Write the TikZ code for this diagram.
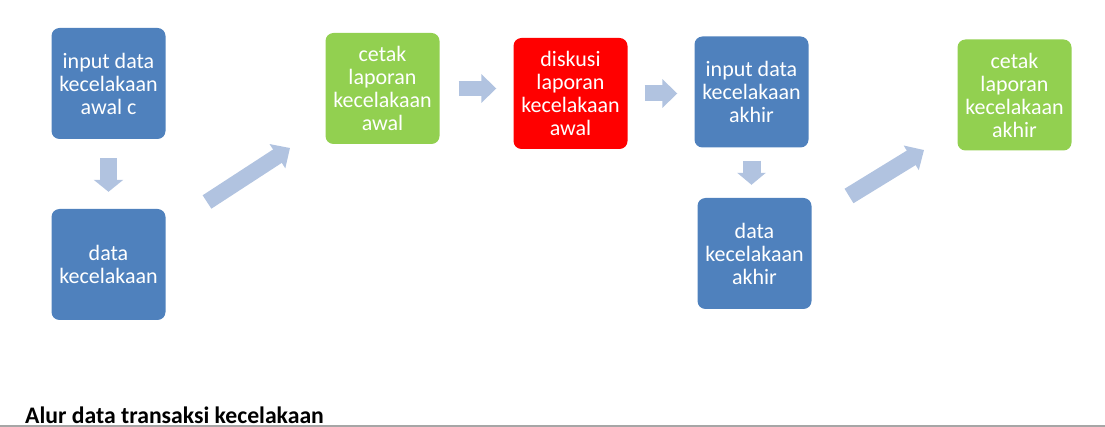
\documentclass[tikz,border=0pt]{standalone}
\usepackage{fontspec}
\setmainfont{Carlito}
\usetikzlibrary{arrows.meta}
\definecolor{boxblue}{HTML}{4F81BD}
\definecolor{boxgreen}{HTML}{92D050}
\definecolor{boxred}{HTML}{FF0000}
\definecolor{flowblue}{HTML}{B1C3E0}
\begin{document}
\begin{tikzpicture}[
        x=1pt,y=-1pt,
        box/.style={
            rectangle,rounded corners=8pt,inner sep=0pt,
            minimum width=114pt,minimum height=111pt,
            text=white,align=center,
            font=\fontsize{22}{23}\selectfont
        },
        flow/.style={
            draw=flowblue,line width=17pt,
            -{Triangle[width=29pt,length=12pt]}
        },
        flowside/.style={
            draw=flowblue,line width=15pt,
            -{Triangle[width=28pt,length=15pt]}
        }
    ]
    \useasboundingbox (0,0) rectangle (1105,427);
% Boxes
    \node[box,fill=boxblue] (inAwal) at (108.5,83.5) {input data\\kecelakaan\\awal c};
    \node[box,fill=boxblue] (dataAwal) at (108.5,264.5) {data\\kecelakaan};
    \node[box,fill=boxgreen] (cetakAwal) at (382.5,88.5) {cetak\\laporan\\kecelakaan\\awal};
    \node[box,fill=boxred] (diskusi) at (570.5,93.5) {diskusi\\laporan\\kecelakaan\\awal};
    \node[box,fill=boxblue] (inAkhir) at (751.5,92) {input data\\kecelakaan\\akhir};
    \node[box,fill=boxblue] (dataAkhir) at (754.5,253.5) {data\\kecelakaan\\akhir};
    \node[box,fill=boxgreen] (cetakAkhir) at (1014.5,95) {cetak\\laporan\\kecelakaan\\akhir};
% Arrows
    \coordinate (upA) at (207,202);
    \coordinate (upAtip) at (290,148);
    \coordinate (upB) at (849,196);
    \coordinate (upBtip) at (924,150);
    \draw[flow,shorten <=19pt,shorten >=17pt] (inAwal.south) -- (dataAwal.north);
    \draw[flow,line width=16pt,-{Triangle[width=28pt,length=15pt]}] (upA) -- (upAtip);
    \draw[flowside,shorten <=19pt,shorten >=17pt] (cetakAwal.east) -- (cetakAwal.east -| diskusi.west);
    \draw[flowside,line width=16pt,shorten <=17pt,shorten >=17pt] (diskusi.east) -- (diskusi.east -| inAkhir.west);
    \draw[flow,line width=18pt,-{Triangle[width=28pt,length=12pt]},shorten <=13pt,shorten >=13pt] (inAkhir.south) -- (inAkhir.south |- dataAkhir.north);
    \draw[flow,line width=17pt,-{Triangle[width=28pt,length=15pt]}] (upB) -- (upBtip);
% Caption
    \node[anchor=base west,inner sep=0pt,font=\fontsize{23.7}{25}\selectfont\bfseries] (caption) at (25,423) {Alur data transaksi kecelakaan};
    \draw[black!35,line width=1.5pt] (0,426) -- (1105,426);
\end{tikzpicture}
\end{document}
